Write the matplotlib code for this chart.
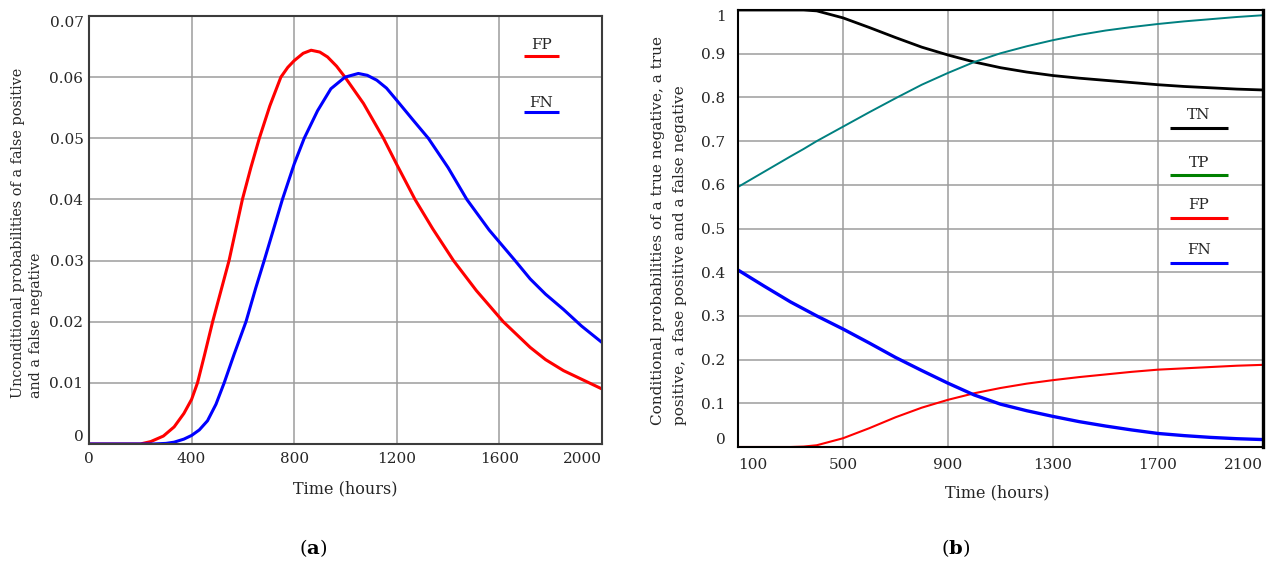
import matplotlib
matplotlib.use("Agg")
import matplotlib.pyplot as plt
from matplotlib.lines import Line2D

plt.rcParams['font.family'] = ['DejaVu Serif']
plt.rcParams['mathtext.fontset'] = 'custom'
plt.rcParams['mathtext.rm'] = 'DejaVu Serif'
plt.rcParams['mathtext.bf'] = 'DejaVu Serif:bold'

TEXT = '#262626'

# ---- (a) unconditional probabilities ----
hours_fp_a = [0, 200, 241, 290, 332, 370, 400, 423, 450, 482, 514, 546, 572,
              598, 631, 664, 705, 748, 775, 800, 835, 866, 900, 930, 965, 998,
              1070, 1148, 1200, 1271, 1340, 1421, 1510, 1615, 1720, 1780, 1850,
              1930, 2000]
fp_uncond = [0, 0, 0.0004, 0.0013, 0.0028, 0.0050, 0.0073, 0.0100, 0.0145,
             0.0200, 0.0250, 0.0300, 0.0350, 0.0400, 0.0452, 0.0500, 0.0553,
             0.0600, 0.0616, 0.0627, 0.0639, 0.0644, 0.0641, 0.0633, 0.0618,
             0.0600, 0.0557, 0.0500, 0.0457, 0.0400, 0.0352, 0.0300, 0.0251,
             0.0200, 0.0158, 0.0138, 0.0120, 0.0104, 0.0090]
hours_fn_a = [0, 250, 300, 332, 370, 400, 430, 462, 495, 527, 566, 612, 650,
              683, 720, 754, 800, 839, 891, 943, 998, 1050, 1085, 1122, 1160,
              1200, 1265, 1323, 1400, 1473, 1560, 1661, 1720, 1780, 1850, 1920,
              2000]
fn_uncond = [0, 0, 0.0001, 0.0003, 0.0008, 0.0014, 0.0023, 0.0038, 0.0065,
             0.0100, 0.0147, 0.0200, 0.0255, 0.0300, 0.0352, 0.0400, 0.0458,
             0.0500, 0.0545, 0.0581, 0.0600, 0.0606, 0.0603, 0.0595, 0.0582,
             0.0562, 0.0529, 0.0500, 0.0452, 0.0400, 0.0350, 0.0300, 0.0270,
             0.0245, 0.0220, 0.0193, 0.0166]
xticks_a = [0, 400, 800, 1200, 1600, 2000]
yticks_a = [0, 0.01, 0.02, 0.03, 0.04, 0.05, 0.06, 0.07]
ytick_labels_a = ['0', '0.01', '0.02', '0.03', '0.04', '0.05', '0.06', '0.07']

# ---- (b) conditional probabilities ----
hours_b = [100, 200, 300, 350, 400, 500, 600, 700, 800, 900, 1000, 1100, 1200,
           1300, 1400, 1500, 1600, 1700, 1800, 1900, 2000, 2100]
tn_cond = [1.0, 1.0, 1.0, 1.0, 0.998, 0.982, 0.960, 0.937, 0.915, 0.897, 0.881,
           0.868, 0.858, 0.850, 0.844, 0.839, 0.834, 0.829, 0.825, 0.822, 0.819,
           0.817]
tp_cond = [0.595, 0.630, 0.665, 0.682, 0.700, 0.733, 0.766, 0.798, 0.829, 0.856,
           0.881, 0.901, 0.917, 0.931, 0.943, 0.953, 0.961, 0.968, 0.974, 0.979,
           0.984, 0.988]
fp_cond = [0, 0, 0, 0.001, 0.004, 0.020, 0.043, 0.068, 0.090, 0.108, 0.123,
           0.135, 0.145, 0.153, 0.160, 0.166, 0.172, 0.177, 0.180, 0.183, 0.186,
           0.188]
fn_cond = [0.405, 0.368, 0.332, 0.316, 0.300, 0.270, 0.238, 0.205, 0.175, 0.146,
           0.119, 0.098, 0.083, 0.070, 0.058, 0.048, 0.039, 0.031, 0.026, 0.022,
           0.019, 0.017]
xticks_b = [100, 500, 900, 1300, 1700, 2100]
yticks_b = [0, 0.1, 0.2, 0.3, 0.4, 0.5, 0.6, 0.7, 0.8, 0.9, 1.0]
ytick_labels_b = ['0', '0.1', '0.2', '0.3', '0.4', '0.5', '0.6', '0.7', '0.8',
                  '0.9', '1']

W, H = 1270, 563
fig = plt.figure(figsize=(W / 100, H / 100), dpi=100)
fig.patch.set_facecolor('white')


def frame(ax, color, lw):
    for s in ax.spines.values():
        s.set_color(color)
        s.set_linewidth(lw)
    ax.grid(True, color='#9c9c9c', lw=1.1)
    ax.set_axisbelow(True)
    ax.tick_params(length=0, labelsize=11, labelcolor=TEXT)


def mark_legend(ax, label, color, tx, ty, x0, x1, ly):
    ax.text(tx, ty, label, transform=ax.transAxes, ha='center', va='center',
            fontsize=11, color=TEXT)
    ax.add_line(Line2D([x0, x1], [ly, ly], transform=ax.transAxes,
                       color=color, lw=2.2, solid_capstyle='butt'))


# panel (a)
ax1 = fig.add_axes([89 / W, 1 - 444 / H, (602 - 89) / W, (444 - 16) / H])
frame(ax1, '#3c3c3c', 1.5)
ax1.plot(hours_fp_a, fp_uncond, color='#ff0000', lw=2.2)
ax1.plot(hours_fn_a, fn_uncond, color='#0000ff', lw=2.2)
ax1.set_xlim(0, 2000)
ax1.set_ylim(0, 0.07)
ax1.set_xticks(xticks_a)
ax1.set_xticklabels([str(v) for v in xticks_a])
ax1.set_yticks(yticks_a)
ax1.set_yticklabels(ytick_labels_a)
ax1.tick_params(axis='x', pad=6)
ax1.tick_params(axis='y', pad=4)
ax1.get_xticklabels()[-1].set_ha('right')
ax1.get_yticklabels()[-1].set_va('top')
ax1.get_yticklabels()[0].set_va('bottom')
mark_legend(ax1, 'FP', '#ff0000', 0.882, 0.932, 0.848, 0.916, 0.907)
mark_legend(ax1, 'FN', '#0000ff', 0.882, 0.797, 0.848, 0.916, 0.776)

fig.text(345 / W, 1 - 489 / H, 'Time (hours)', ha='center', va='center',
         fontsize=11.5, color=TEXT)
fig.text(27 / W, 1 - 233 / H,
         'Unconditional probabilities of a false positive\nand a false negative',
         rotation=90, ha='center', va='center', multialignment='left',
         fontsize=10.4, linespacing=1.4, color=TEXT)
fig.text(313 / W, 1 - 548 / H, r'($\mathbf{a}$)', ha='center', va='center',
         fontsize=14, color='black')

# panel (b)
ax2 = fig.add_axes([738 / W, 1 - 447 / H, (1263 - 738) / W, (447 - 10) / H])
frame(ax2, 'black', 1.5)
ax2.spines['right'].set_linewidth(2.4)
ax2.plot(hours_b, tn_cond, color='black', lw=2.0)
ax2.plot(hours_b, tp_cond, color='#008080', lw=1.4)
ax2.plot(hours_b, fp_cond, color='#ff0000', lw=1.5)
ax2.plot(hours_b, fn_cond, color='#0000ff', lw=2.4)
ax2.set_xlim(100, 2100)
ax2.set_ylim(0, 1.0)
ax2.set_xticks(xticks_b)
ax2.set_xticklabels([str(v) for v in xticks_b])
ax2.set_yticks(yticks_b)
ax2.set_yticklabels(ytick_labels_b)
ax2.tick_params(axis='x', pad=8)
ax2.tick_params(axis='y', pad=9)
ax2.get_xticklabels()[0].set_ha('left')
ax2.get_xticklabels()[-1].set_ha('right')
ax2.get_yticklabels()[-1].set_va('top')
ax2.get_yticklabels()[0].set_va('bottom')
mark_legend(ax2, 'TN', 'black', 0.878, 0.760, 0.823, 0.933, 0.730)
mark_legend(ax2, 'TP', '#008000', 0.878, 0.650, 0.823, 0.933, 0.622)
mark_legend(ax2, 'FP', '#ff0000', 0.878, 0.554, 0.823, 0.933, 0.524)
mark_legend(ax2, 'FN', '#0000ff', 0.878, 0.451, 0.823, 0.933, 0.421)

fig.text(997 / W, 1 - 493 / H, 'Time (hours)', ha='center', va='center',
         fontsize=11.5, color=TEXT)
fig.text(669 / W, 1 - 230 / H,
         'Conditional probabilities of a true negative, a true\n'
         'positive, a fase positive and a false negative',
         rotation=90, ha='center', va='center', multialignment='left',
         fontsize=11, linespacing=1.75, color=TEXT)
fig.text(956 / W, 1 - 548 / H, r'($\mathbf{b}$)', ha='center', va='center',
         fontsize=14, color='black')

fig.savefig('out.png', dpi=100, facecolor='white')
